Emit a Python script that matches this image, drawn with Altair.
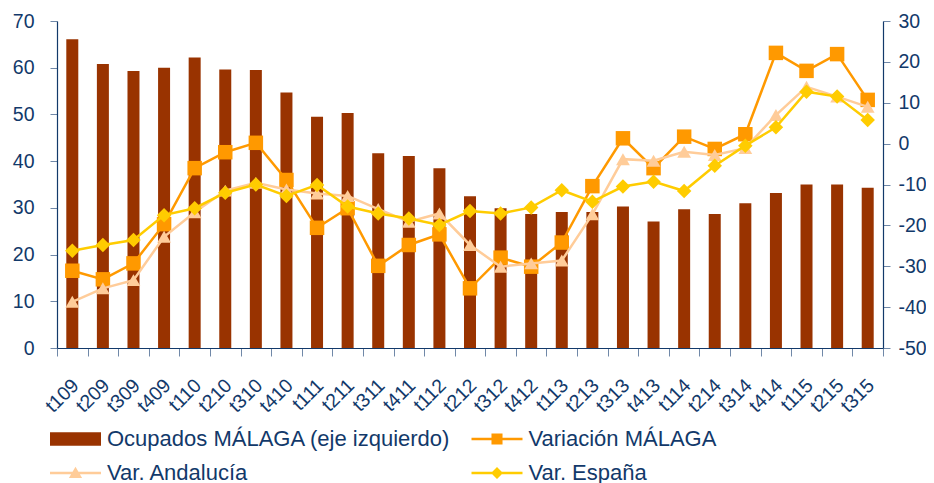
import altair as alt
import pandas as pd

categories = ["t109", "t209", "t309", "t409", "t110", "t210", "t310", "t410",
              "t111", "t211", "t311", "t411", "t112", "t212", "t312", "t412",
              "t113", "t213", "t313", "t413", "t114", "t214", "t314", "t414",
              "t115", "t215", "t315"]

ocupados = [66.1, 60.8, 59.3, 60.0, 62.2, 59.6, 59.5, 54.7, 49.5, 50.3, 41.7, 41.1,
            38.5, 32.5, 29.9, 28.7, 29.1, 29.1, 30.3, 27.1, 29.7, 28.7, 31.0, 33.2,
            35.0, 35.0, 34.3]

var_malaga = [-31.1, -33.2, -29.3, -19.7, -6.0, -2.1, 0.2, -8.9, -20.6, -15.8, -29.9,
              -24.8, -22.2, -35.4, -27.9, -30.1, -24.2, -10.4, 1.3, -6.0, 1.7, -1.3,
              2.3, 22.2, 17.8, 21.9, 10.7]

var_andalucia = [-38.7, -35.4, -33.4, -22.8, -16.8, -11.5, -9.6, -11.2, -12.2, -12.8,
                 -16.0, -19.1, -17.1, -24.8, -30.1, -29.3, -28.6, -17.3, -3.8, -4.2,
                 -2.0, -2.8, -1.1, 7.0, 13.9, 11.5, 9.0]

var_espana = [-26.2, -24.8, -23.6, -17.5, -15.8, -12.0, -10.0, -12.8, -10.1, -15.4,
              -17.1, -18.3, -19.9, -16.5, -17.1, -15.6, -11.4, -14.2, -10.5, -9.3,
              -11.6, -5.4, -0.5, 4.0, 12.7, 11.5, 5.8]

series = ["Ocupados MÁLAGA (eje izquierdo)", "Variación MÁLAGA",
          "Var. Andalucía", "Var. España"]
colors = ["#993300", "#FF9900", "#FFCC99", "#FFCC00"]

# legend symbols (line + marker), in the [-1,1] symbol box, stretched sideways
legend_paths = [
    "M-2.125,-0.57L2.125,-0.57L2.125,0.57L-2.125,0.57Z",
    "M-2.125,-0.1L2.125,-0.1L2.125,0.1L-2.125,0.1Z M-0.46,-0.46L0.46,-0.46L0.46,0.46L-0.46,0.46Z",
    "M-2.125,-0.1L2.125,-0.1L2.125,0.1L-2.125,0.1Z M0,-0.52L0.55,0.42L-0.55,0.42Z",
    "M-2.125,-0.1L2.125,-0.1L2.125,0.1L-2.125,0.1Z M0,-0.5L0.5,0L0,0.5L-0.5,0Z",
]

NAVY = "#12396A"
TICK = "#7088A8"
FONT = "Liberation Sans"

bars_df = pd.DataFrame({"periodo": categories, "valor": ocupados})
mal_df = pd.DataFrame({"periodo": categories, "valor": var_malaga})
and_df = pd.DataFrame({"periodo": categories, "valor": var_andalucia})
esp_df = pd.DataFrame({"periodo": categories, "valor": var_espana})
leg_df = pd.DataFrame({"serie": series})

x_enc = alt.X("periodo:N", sort=categories,
              scale=alt.Scale(type="band", domain=categories, paddingInner=0, paddingOuter=0),
              axis=alt.Axis(title=None, labelAngle=-45, labelAlign="right",
                            labelBaseline="middle", tickBand="extent", tickSize=8,
                            labelPadding=26, labelOffset=3, labelFontSize=19.5,
                            labelFont=FONT, labelColor=NAVY, domainColor=NAVY,
                            tickColor=TICK, domainWidth=1.2, grid=False))

bars = alt.Chart(bars_df).mark_bar(size=12, color=colors[0]).encode(
    x=x_enc,
    y=alt.Y("valor:Q", scale=alt.Scale(domain=[0, 70], nice=False, zero=True),
            axis=alt.Axis(title=None, orient="left", values=list(range(0, 71, 10)),
                          tickSize=7, labelPadding=16, labelFontSize=19.5, labelFont=FONT,
                          labelColor=NAVY, domainColor=NAVY, tickColor=TICK,
                          domainWidth=1.2, grid=False)),
)

y_right = alt.Y("valor:Q", scale=alt.Scale(domain=[-50, 30], nice=False, zero=False),
                axis=alt.Axis(title=None, orient="right", values=list(range(-50, 31, 10)),
                              labelExpr="datum.value + ''",
                              tickSize=7, labelPadding=8, labelFontSize=19.5, labelFont=FONT,
                              labelColor=NAVY, domainColor=NAVY, tickColor=TICK,
                              domainWidth=1.2, grid=False))


def serie_layers(df, color, shape, size):
    base = alt.Chart(df).encode(x=x_enc, y=y_right)
    line = base.mark_line(color=color, strokeWidth=2.5)
    pts = base.mark_point(filled=True, opacity=1, color=color, shape=shape, size=size)
    return [line, pts]


legend_kw = dict(title=None, orient="none", legendX=6.5, legendY=406, columns=2,
                 direction="horizontal", columnPadding=19.5, rowPadding=11,
                 symbolSize=576, symbolStrokeWidth=0, labelFontSize=22, labelFont=FONT,
                 labelColor=NAVY, labelOffset=19.5, labelLimit=0, padding=0)

legend_layer = alt.Chart(leg_df).mark_point(filled=True, opacity=1).encode(
    color=alt.Color("serie:N", scale=alt.Scale(domain=series, range=colors),
                    legend=alt.Legend(**legend_kw)),
    shape=alt.Shape("serie:N", scale=alt.Scale(domain=series, range=legend_paths),
                    legend=alt.Legend(**legend_kw)),
).transform_filter("false")

right = alt.layer(
    *serie_layers(mal_df, colors[1], "square", 210),
    *serie_layers(and_df, colors[2], "triangle-up", 190),
    *serie_layers(esp_df, colors[3], "diamond", 210),
    legend_layer,
)

chart = alt.layer(bars, right).resolve_scale(y="independent").properties(
    width=826, height=327,
    autosize=alt.AutoSizeParams(type="none"),
    padding={"left": 49, "top": 13, "right": 43, "bottom": 135},
    background="white",
).configure_view(stroke=None)

chart.save("out.html", embed_options={"renderer": "svg", "actions": False})
